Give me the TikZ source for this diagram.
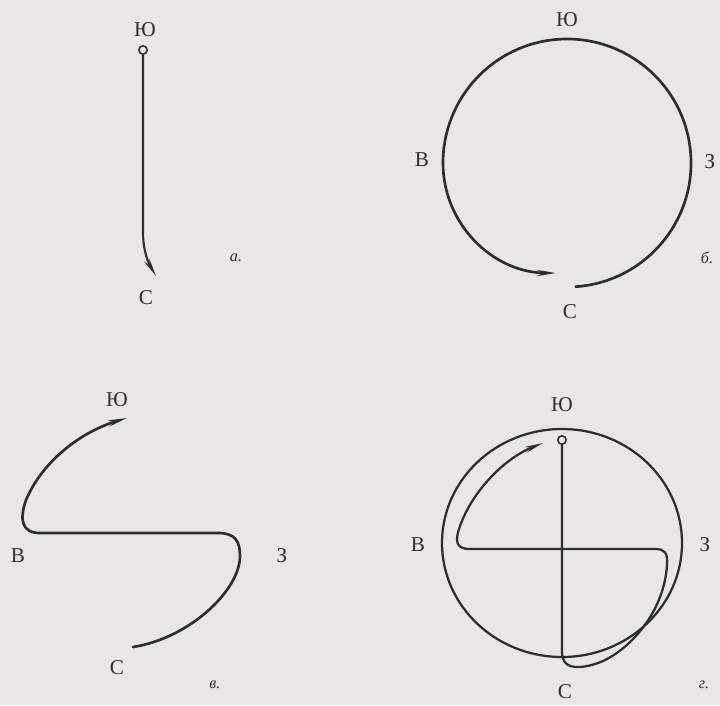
\documentclass[tikz,border=0pt]{standalone}
\usepackage{fontspec}
\setmainfont{Liberation Serif}
\usepackage{tikz}
\usetikzlibrary{arrows.meta}
\definecolor{paper}{RGB}{233,231,228}
\definecolor{ink}{RGB}{45,45,45}

\begin{document}
\begin{tikzpicture}[
  x=0.025cm, y=-0.025cm,
  lab/.style={font=\fontsize{15}{17}\selectfont, text=ink, inner sep=0pt},
  tag/.style={font=\fontsize{11.5}{13}\selectfont\itshape, text=ink, inner sep=0pt},
  trail/.style={ink, line width=1.9pt, line cap=round},
  rim/.style={ink, line width=1.6pt},
  tip/.style={-{Stealth[length=13pt, width=4.2pt]}},
  pin/.style={circle, draw=ink, line width=1.1pt, fill=paper, minimum size=2.1mm, inner sep=0pt}
]
  \fill[paper] (0,0) rectangle (720,705);
  \useasboundingbox (0,0) rectangle (720,705);

  % a. straight swing
  \node[lab] (a-n) at (145,30) {Ю};
  \node[lab] (a-s) at (146,298) {С};
  \node[tag] (a-tag) at (236,258) {а.};
  \node[pin] (a-pin) at (143,50) {};
  \coordinate (a-end) at (156,276);
  \draw[trail, line width=1.5pt, tip] (a-pin.south) -- (143,232)
       .. controls (143,252) and (149,264) .. (a-end);

  % б. full turn
  \def\R{124}
  \node[lab] (b-n) at (567,20) {Ю};
  \node[lab] (b-w) at (422,160) {В};
  \node[lab] (b-e) at (710,162) {З};
  \node[lab] (b-s) at (570,312) {С};
  \node[tag] (b-tag) at (707,258) {б.};
  \coordinate (b-start) at ({567+\R*cos(86)},{163+\R*sin(86)});
  \coordinate (b-end) at (556,273);
  \draw[trail, tip] (b-start) arc[start angle=86, end angle=-180, radius=\R]
       .. controls (443,224) and (493,273) .. (b-end);

  % в. s-curve
  \node[lab] (c-n) at (117,400) {Ю};
  \node[lab] (c-w) at (18,556) {В};
  \node[lab] (c-e) at (282,556) {З};
  \node[lab] (c-s) at (117,668) {С};
  \node[tag] (c-tag) at (215,685) {в.};
  \coordinate (c-start) at (133,647);
  \coordinate (c-end) at (127,418);
  \draw[trail, tip] (c-start) .. controls (190,638) and (240,590) .. (240,556)
       .. controls (240,541) and (235,533) .. (218,533) -- (40,533)
       .. controls (22,533) and (19,520) .. (26,500)
       .. controls (42,462) and (80,432) .. (c-end);

  % г. combined
  \node[lab] (d-n) at (562,405) {Ю};
  \node[lab] (d-w) at (418,545) {В};
  \node[lab] (d-e) at (705,545) {З};
  \node[lab] (d-s) at (565,692) {С};
  \node[tag] (d-tag) at (704,685) {г.};
  \draw[rim] (562,543) ellipse[x radius=120, y radius=114];
  \node[pin] (d-pin) at (562,440) {};
  \coordinate (d-end) at (543,443);
  \draw[rim, line cap=round, tip] (d-pin.south) -- (562,652)
       .. controls (562,668) and (575,670) .. (595,664)
       .. controls (625,655) and (664,615) .. (667,565)
       .. controls (668,552) and (664,549) .. (655,549) -- (470,549)
       .. controls (455,549) and (455,540) .. (460,526)
       .. controls (473,490) and (505,458) .. (d-end);
\end{tikzpicture}
\end{document}
